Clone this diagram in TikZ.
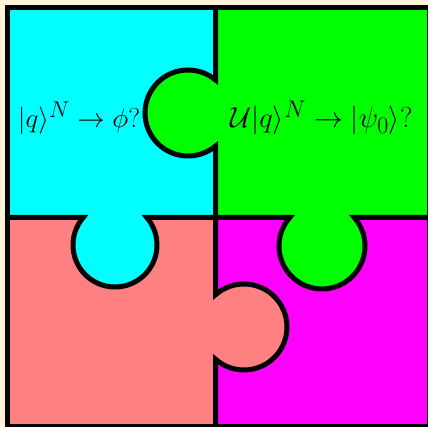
\documentclass[tikz,border=0pt]{standalone}
\usepackage{amsmath}
\definecolor{bgcream}{RGB}{255,243,217}
\definecolor{pcyan}{RGB}{0,255,255}
\definecolor{pgreen}{RGB}{0,255,0}
\definecolor{psalmon}{RGB}{255,128,128}
\definecolor{pmagenta}{RGB}{255,0,255}
\begin{document}
\begin{tikzpicture}[x=1pt,y=1pt,
  edge/.style={line width=5pt,black},
  lbl/.style={inner sep=0pt,font=\fontsize{24.88}{30}\selectfont}]
\useasboundingbox (0,0) rectangle (428,427);
\fill[bgcream] (0,0) rectangle (428,427);
% quadrants
\fill[pcyan] (7.5,209.5) rectangle (215.5,419.5);
\fill[pgreen] (215.5,209.5) rectangle (429,419.5);
\fill[psalmon] (7.5,0.5) rectangle (215.5,209.5);
\fill[pmagenta] (215.5,0.5) rectangle (429,209.5);
% tabs
\fill[pgreen] (188,314) circle[radius=43];
\fill[pcyan] (115,182) circle[radius=42];
\fill[pgreen] (322,181) circle[radius=43];
\fill[psalmon] (244,100) circle[radius=43];
% outlines
\draw[edge] (7.5,0.5) rectangle (429,419.5);
\draw[edge] (215.5,419.5) -- (215.5,347.06)
  arc[start angle=50.25,end angle=309.75,radius=43]
  -- (215.5,132.2)
  arc[start angle=131.5,end angle=-131.5,radius=43]
  -- (215.5,0.5);
\draw[edge] (7.5,209.5) -- (83.25,209.5)
  arc[start angle=139.1,end angle=400.9,radius=42]
  -- (289.8,209.5)
  arc[start angle=138.5,end angle=401.5,radius=43]
  -- (429,209.5);
% labels
\node[lbl,scale=1.1] (t1) at (79,309) {$|q\rangle^N \to \phi?$};
\node[lbl,scale=1.16] (t2) at (321.5,309) {$\mathcal{U}|q\rangle^N \to |\psi_0\rangle?$};
\end{tikzpicture}
\end{document}
